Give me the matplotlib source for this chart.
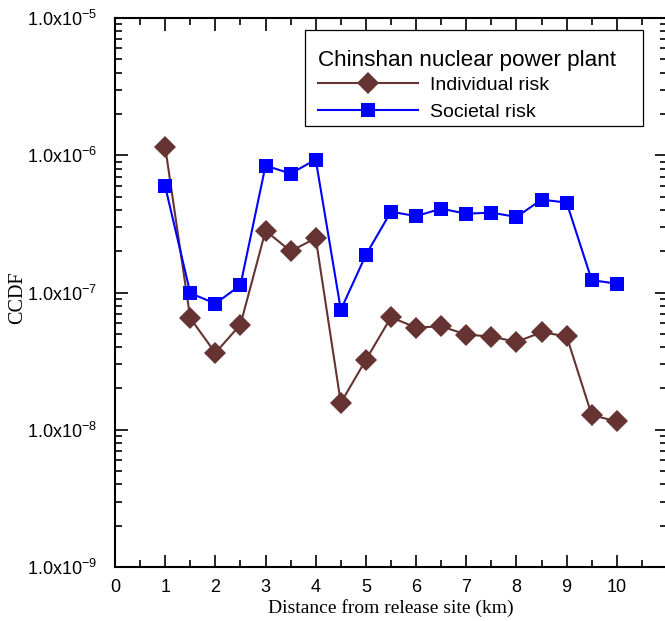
import matplotlib
matplotlib.use("Agg")
import matplotlib.pyplot as plt
from matplotlib.ticker import FixedLocator, FuncFormatter, NullFormatter, MultipleLocator
from matplotlib.patches import Rectangle
import numpy as np

distance_km = [1, 1.5, 2, 2.5, 3, 3.5, 4, 4.5, 5, 5.5, 6, 6.5, 7, 7.5, 8, 8.5, 9, 9.5, 10]
individual_risk = [1.15e-6, 6.5e-8, 3.63e-8, 5.84e-8, 2.82e-7, 2.0e-7, 2.49e-7, 1.57e-8, 3.23e-8,
                   6.6e-8, 5.55e-8, 5.67e-8, 4.94e-8, 4.77e-8, 4.37e-8, 5.13e-8, 4.8e-8, 1.28e-8, 1.15e-8]
societal_risk = [5.94e-7, 9.9e-8, 8.3e-8, 1.13e-7, 8.41e-7, 7.35e-7, 9.3e-7, 7.48e-8, 1.88e-7,
                 3.88e-7, 3.6e-7, 4.08e-7, 3.75e-7, 3.82e-7, 3.55e-7, 4.75e-7, 4.52e-7, 1.23e-7, 1.16e-7]
x_ticks = list(range(0, 11))
y_major = [1e-9, 1e-8, 1e-7, 1e-6, 1e-5]
legend_title = "Chinshan nuclear power plant"
series_names = ["Individual risk", "Societal risk"]

plt.rcParams['mathtext.default'] = 'regular'
sans = ['Liberation Sans', 'DejaVu Sans']
serif = ['Liberation Serif', 'DejaVu Serif']

fig = plt.figure(figsize=(6.65, 6.21), dpi=100)
ax = fig.add_axes([115/665, 54/621, 552/665, 549/621])

ax.plot(distance_km, individual_risk, color='#663333', lw=1.5, marker='D', ms=11,
        markeredgewidth=0, label=series_names[0], zorder=3)
ax.plot(distance_km, societal_risk, color='#0000FF', lw=1.5, marker='s', ms=10.5,
        markeredgewidth=0, label=series_names[1], zorder=3)

ax.set_yscale('log')
ax.set_ylim(1e-9, 1e-5)
ax.set_xlim(0, 11)
ax.xaxis.set_major_locator(FixedLocator(x_ticks))
ax.xaxis.set_minor_locator(MultipleLocator(0.5))
ax.yaxis.set_major_locator(FixedLocator(y_major))

def yfmt(v, pos):
    e = int(round(np.log10(v)))
    return r'1.0x10$^{%d}$' % e
ax.yaxis.set_major_formatter(FuncFormatter(yfmt))
ax.yaxis.set_minor_formatter(NullFormatter())

ax.tick_params(which='both', direction='in', top=True, right=True, width=1.2)
ax.tick_params(which='major', length=9, labelsize=13)
ax.tick_params(which='minor', length=5)
ax.tick_params(axis='y', which='major', pad=13)
ax.tick_params(axis='x', which='major', pad=9)
for lab in ax.get_xticklabels() + ax.get_yticklabels():
    lab.set_family(sans)
for s in ax.spines.values():
    s.set_linewidth(1.5)

ax.set_xlabel('Distance from release site (km)', family=serif, fontsize=14, labelpad=2)
ax.set_ylabel('CCDF', family=serif, fontsize=14.5)
ax.yaxis.set_label_coords(-0.16, 0.49)

# legend frame box
ax.add_patch(Rectangle((0.3442, 0.8033), 0.6123, 0.1748, transform=ax.transAxes,
                       facecolor='white', edgecolor='black', lw=0.9, zorder=5))
leg = ax.legend(title=legend_title, loc='upper left', bbox_to_anchor=(0.3678, 0.9417),
                prop={'family': sans, 'size': 14}, title_fontproperties={'family': sans, 'size': 16.2},
                frameon=False, handlelength=5.14, borderpad=0, labelspacing=0.45,
                handletextpad=0.62, borderaxespad=0)
leg.set_zorder(6)
leg._legend_box.align = 'left'
leg._legend_box.sep = 4

fig.savefig('out.png', dpi=100)
